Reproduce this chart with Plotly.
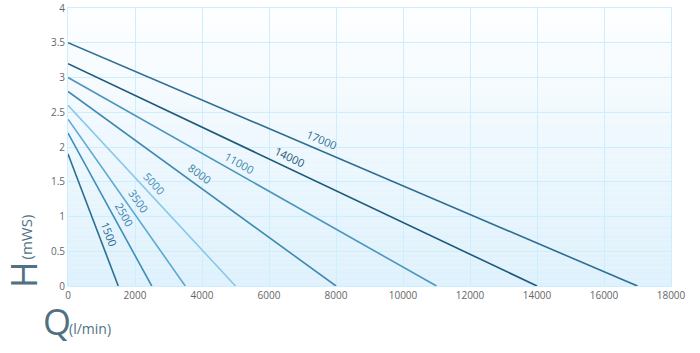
import math
import plotly.graph_objects as go

# Data: pump curves (flow in l/min, head in mWS)
models = ["17000", "14000", "11000", "8000", "5000", "3500", "2500", "1500"]
max_flow = [17000, 14000, 11000, 8000, 5000, 3500, 2500, 1500]
max_head = [3.5, 3.2, 3.0, 2.8, 2.6, 2.4, 2.2, 1.9]
x_ticks = [0, 2000, 4000, 6000, 8000, 10000, 12000, 14000, 16000, 18000]
y_ticks = [0, 0.5, 1, 1.5, 2, 2.5, 3, 3.5, 4]

# Styles
colors = ["#2d6e91", "#1d5a7a", "#4c95bd", "#3f88ae", "#86c8ea", "#5ba8d2", "#3e8dbb", "#2a6f94"]
label_colors = ["#2d6e91", "#1d5a7a", "#3f88b0", "#3f82a8", "#4a90b8", "#3f86ae", "#3a82ad", "#2a6f94"]
label_frac = [0.438, 0.462, 0.45, 0.468, 0.47, 0.525, 0.565, 0.635]

W, H = 700, 353
ml, mr, mt, mb = 68, 29, 8, 67
pw, ph = W - ml - mr, H - mt - mb
xr, yr = [0, 18000], [0, 4]
sx, sy = pw / (xr[1] - xr[0]), ph / (yr[1] - yr[0])

def px(xp):
    return (xp - ml) / pw

def py(yp):
    return (H - mb - yp) / ph

fig = go.Figure()

# Gradient background via thin stacked rectangles
n = 60
for i in range(n):
    t = i / (n - 1)
    top = (253, 254, 255)
    bot = (222, 241, 252)
    c = tuple(round(top[k] + (bot[k] - top[k]) * t) for k in range(3))
    fig.add_shape(type="rect", xref="x", yref="y",
                  x0=0, x1=18000, y0=4 - 4 * i / n, y1=4 - 4 * (i + 1) / n,
                  fillcolor="rgb(%d,%d,%d)" % c, line_width=0, layer="below")

for i, m in enumerate(models):
    fig.add_trace(go.Scatter(x=[0, max_flow[i]], y=[max_head[i], 0], mode="lines",
                             line=dict(color=colors[i], width=1.6), showlegend=False,
                             hoverinfo="skip"))
    fx = max_flow[i] * label_frac[i]
    fy = max_head[i] * (1 - label_frac[i])
    ang = math.degrees(math.atan((max_head[i] * sy) / (max_flow[i] * sx)))
    off = 10.5
    dxp = off * math.sin(math.radians(ang))
    dyp = off * math.cos(math.radians(ang))
    fig.add_annotation(x=fx + dxp / sx, y=fy + dyp / sy, text=m, showarrow=False,
                       textangle=ang, font=dict(family="Open Sans", size=11, color=label_colors[i]),
                       xanchor="center", yanchor="middle")

# Axis titles
title_color = "#4f7184"
fig.add_annotation(xref="paper", yref="paper", x=px(23), y=py(275), text="H",
                   textangle=-90, showarrow=False, xanchor="center", yanchor="middle",
                   font=dict(family="Liberation Sans Narrow, Open Sans", size=36, color=title_color))
fig.add_annotation(xref="paper", yref="paper", x=px(25.5), y=py(237),
                   text="(mWS)", textangle=-90, showarrow=False, xanchor="center", yanchor="middle",
                   font=dict(family="Open Sans", size=15, color=title_color))
fig.add_annotation(xref="paper", yref="paper", x=px(57), y=py(321), text="Q",
                   showarrow=False, xanchor="center", yanchor="middle",
                   font=dict(family="Liberation Sans Narrow, Open Sans", size=36, color=title_color))
fig.add_annotation(xref="paper", yref="paper", x=px(90), y=py(328), text="(l/min)",
                   showarrow=False, xanchor="center", yanchor="middle",
                   font=dict(family="Open Sans", size=14, color=title_color))

grid = "#cdeefc"
axis_common = dict(showgrid=True, gridcolor=grid, gridwidth=1, zeroline=False,
                   showline=True, linecolor=grid, linewidth=1, mirror=True,
                   tickfont=dict(family="Open Sans", size=10, color="#666"),
                   ticks="", automargin=False)
fig.update_layout(
    width=W, height=H, margin=dict(l=ml, r=mr, t=mt, b=mb, autoexpand=False),
    paper_bgcolor="white", plot_bgcolor="white",
    xaxis=dict(range=xr, tickvals=x_ticks, ticktext=[str(v) for v in x_ticks], **axis_common),
    yaxis=dict(range=yr, tickvals=y_ticks, ticktext=[str(v) for v in y_ticks], **axis_common),
    font=dict(family="Open Sans"),
)

fig.write_html("out.html")
